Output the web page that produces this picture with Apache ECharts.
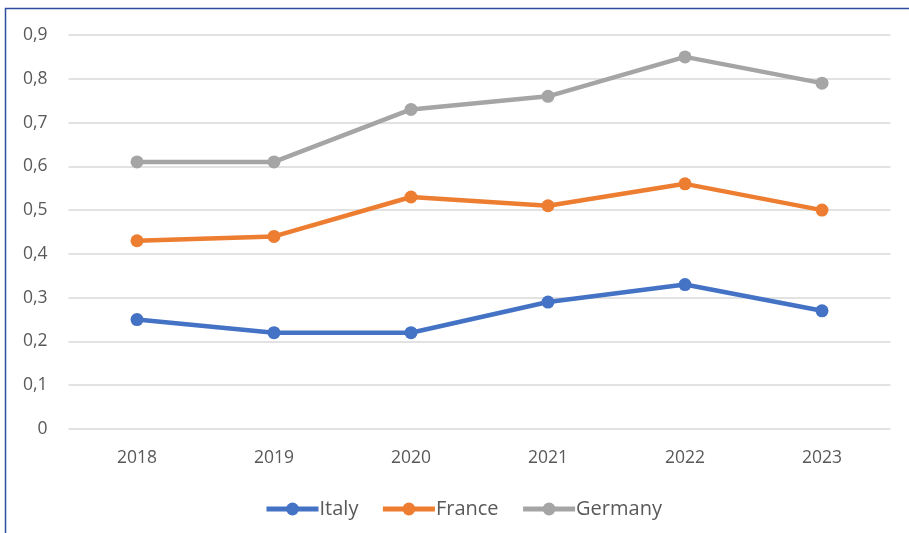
<!DOCTYPE html>
<html><head><meta charset="utf-8">
<script src="https://cdn.jsdelivr.net/npm/echarts@6/dist/echarts.min.js"></script>
<style>html,body{margin:0;padding:0;background:#fff;}#c{width:909px;height:533px;}</style>
</head><body><div id="c"></div>
<script>
const categories = ['2018','2019','2020','2021','2022','2023'];
const italy = [0.25,0.22,0.22,0.29,0.33,0.27];
const france = [0.43,0.44,0.53,0.51,0.56,0.50];
const germany = [0.61,0.61,0.73,0.76,0.85,0.79];
const seriesNames = ['Italy','France','Germany'];
const colors = ['#4472C4','#ED7D31','#A5A5A5'];

const chart = echarts.init(document.getElementById('c'));
const font = 'Open Sans';
function mk(name, data, color){
  return {name, type:'line', data, color, symbol:'circle', symbolSize:13,
    lineStyle:{width:4.5,color}, itemStyle:{color}, z:3};
}
chart.setOption({
  animation:false,
  graphic:[{type:'rect', shape:{x:5.5,y:8.5,width:1000,height:1000}, style:{fill:'none',stroke:'#2F4C9E',lineWidth:1.5}, z:-1}],
  grid:{left:68.5,right:18.5,top:35,bottom:104},
  xAxis:{type:'category',data:categories,boundaryGap:true,
    axisLine:{show:false},axisTick:{show:false},
    axisLabel:{color:'#595959',fontFamily:font,fontSize:17.5,margin:20}},
  yAxis:{type:'value',min:0,max:0.9,interval:0.1,
    axisLabel:{color:'#595959',fontFamily:font,fontSize:17.5,margin:21,
      formatter:v=>v===0?'0':v.toFixed(1).replace('.',',')},
    splitLine:{lineStyle:{color:'#D9D9D9',width:1.5}},
    axisLine:{show:false},axisTick:{show:false}},
  legend:{bottom:9,left:259,itemWidth:52,itemHeight:16,itemGap:22,
    lineStyle:{width:5},
    textStyle:{color:'#595959',fontFamily:font,fontSize:20,padding:[0,0,0,-4]},
    data:seriesNames},
  series:[mk(seriesNames[0],italy,colors[0]),mk(seriesNames[1],france,colors[1]),mk(seriesNames[2],germany,colors[2])]
});
</script></body></html>
